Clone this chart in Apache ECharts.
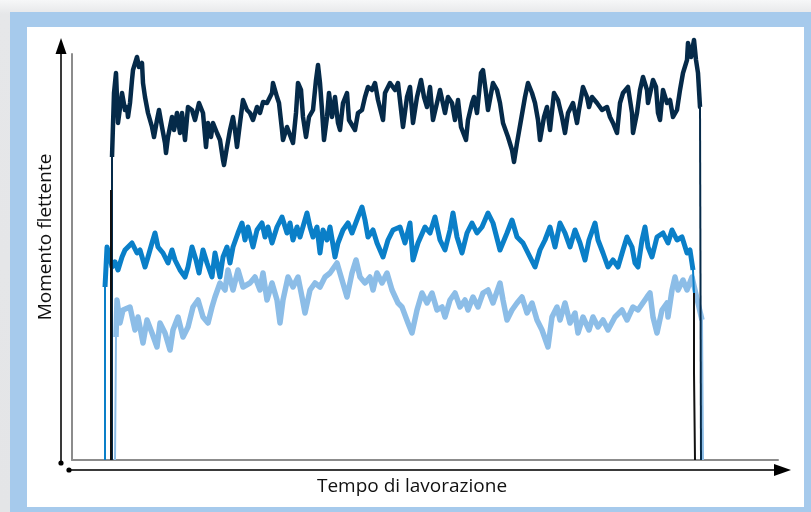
<!DOCTYPE html>
<html>
<head>
<meta charset="utf-8">
<script src="https://cdn.jsdelivr.net/npm/echarts@6/dist/echarts.min.js"></script>
<style>
    html, body { margin: 0; padding: 0; }
    body {
        width: 811px; height: 512px; overflow: hidden; position: relative;
        background: linear-gradient(180deg, #f6f7f8 0px, #e6e7e9 14px, #e4e5e7 100%);
    }
    #frame {
        position: absolute; left: 10px; top: 12px; width: 801px; height: 500px;
        background: #a6caec;
    }
    #panel {
        position: absolute; left: 27px; top: 27px; width: 777px; height: 480px;
        background: #ffffff;
    }
    #main { position: absolute; left: 0; top: 0; width: 811px; height: 512px; }
</style>
</head>
<body>
<div id="frame"></div>
<div id="panel"></div>
<div id="main"></div>
<script>
// assi senza scala: tempo 0..706, momento 0..406
var xLabel = 'Tempo di lavorazione';
var yLabel = 'Momento flettente';

// momento - traccia scura
var serieScura = [
    [40,0],[40,303],[42,367],[44,387],[46,337],[50,367],[53,350],[55,353],[56,343],[58,357],[60,380],[61,390],
    [65,403],[67,393],[70,397],[71,377],[73,363],[76,347],[80,333],[82,323],[85,340],[87,350],[90,333],[93,317],
    [94,307],[96,323],[100,343],[102,330],[105,347],[108,327],[110,347],[113,320],[116,353],[120,350],[123,340],
    [127,357],[131,347],[134,313],[136,337],[139,323],[141,337],[145,327],[148,320],[151,300],[152,295],[155,313],
    [158,330],[161,343],[163,330],[165,313],[168,337],[171,360],[175,350],[178,347],[181,340],[185,353],[188,347],
    [191,358],[195,357],[200,367],[201,377],[205,363],[207,357],[210,330],[211,320],[215,333],[221,317],[224,347],
    [226,377],[229,370],[231,343],[234,323],[237,343],[241,350],[244,380],[246,395],[248,377],[250,350],[252,320],
    [255,343],[257,367],[260,343],[263,363],[266,337],[268,330],[271,357],[275,367],[277,340],[283,330],[286,347],
    [290,350],[293,363],[296,373],[300,370],[303,377],[306,360],[311,340],[313,367],[318,377],[323,370],[326,377],
    [331,333],[335,363],[338,373],[341,337],[345,363],[349,380],[352,363],[355,353],[358,373],[361,340],[368,370],
    [373,347],[376,363],[380,357],[383,340],[386,360],[389,333],[394,320],[396,340],[400,357],[402,363],[405,347],
    [409,387],[411,390],[414,367],[416,350],[421,377],[425,370],[428,357],[431,337],[436,323],[440,310],[442,298],
    [445,317],[449,340],[453,363],[456,377],[460,367],[463,357],[466,340],[468,320],[472,343],[475,353],[478,330],
    [482,367],[486,360],[490,343],[493,327],[496,347],[501,357],[505,337],[507,350],[511,373],[515,363],[517,353],
    [520,363],[525,357],[530,350],[535,353],[538,343],[541,337],[545,327],[548,357],[551,367],[556,373],[560,347],
    [561,327],[565,347],[568,370],[571,383],[575,370],[576,357],[581,380],[584,373],[586,347],[588,340],[591,370],
    [595,357],[598,360],[601,343],[605,350],[608,370],[611,387],[615,400],[616,417],[619,403],[622,420],[624,400],
    [626,387],[628,353],[629,353],[629,0]
];

// momento - traccia media
var serieMedia = [
    [33,0],[33,173],[35,213],[38,203],[40,193],[43,198],[46,190],[50,203],[53,210],[60,217],[65,207],[68,210],
    [73,193],[76,203],[80,217],[83,227],[86,213],[91,207],[96,197],[100,210],[103,200],[108,190],[113,183],[116,193],
    [120,213],[124,200],[127,187],[131,210],[135,197],[140,183],[143,207],[146,193],[148,183],[151,203],[155,213],
    [158,197],[161,213],[166,227],[170,237],[173,220],[176,233],[181,213],[185,230],[190,237],[193,223],[196,233],
    [200,217],[205,233],[210,243],[215,227],[218,237],[221,220],[225,233],[228,223],[235,247],[238,233],[241,223],
    [245,233],[248,207],[251,230],[255,220],[258,233],[263,203],[266,217],[271,230],[276,237],[280,227],[286,243],
    [290,253],[293,240],[296,223],[301,230],[305,217],[311,203],[316,220],[321,230],[328,233],[333,217],[338,237],
    [341,200],[346,217],[353,233],[358,227],[363,243],[368,220],[373,210],[378,230],[381,247],[385,223],[390,207],
    [395,227],[400,237],[405,227],[410,233],[416,247],[421,237],[428,210],[435,227],[440,240],[445,223],[451,217],
    [458,203],[463,193],[468,210],[473,220],[478,233],[483,213],[488,237],[493,227],[498,213],[503,230],[508,217],
    [513,200],[517,220],[523,237],[526,220],[531,207],[536,193],[541,200],[546,193],[551,210],[555,223],[560,213],
    [563,197],[566,193],[570,220],[573,233],[576,213],[580,203],[585,223],[591,227],[596,217],[600,230],[605,220],
    [610,223],[615,207],[618,210],[621,190],[622,167]
];

// momento - traccia chiara
var serieChiara = [
    [43,0],[44,123],[45,160],[48,137],[51,150],[58,153],[63,130],[66,143],[71,117],[75,140],[80,127],[85,113],
    [88,137],[93,127],[98,110],[101,130],[106,143],[111,123],[116,133],[121,153],[126,160],[131,143],[136,137],
    [140,153],[143,163],[148,177],[153,170],[156,190],[161,170],[166,190],[171,173],[178,177],[183,183],[188,170],
    [191,187],[195,160],[200,177],[205,160],[208,137],[211,160],[216,183],[221,173],[226,183],[230,163],[233,147],
    [238,170],[243,177],[248,173],[253,183],[258,187],[265,197],[270,180],[275,163],[280,187],[284,200],[288,183],
    [293,177],[298,183],[301,170],[305,187],[310,177],[315,187],[320,170],[326,157],[330,153],[336,137],[340,127],
    [345,150],[350,167],[355,157],[360,167],[365,150],[370,153],[373,143],[378,160],[383,167],[388,153],[393,160],
    [396,150],[401,163],[406,153],[411,167],[416,170],[421,157],[428,177],[431,160],[435,140],[440,150],[445,157],
    [450,163],[455,147],[460,157],[465,140],[470,130],[476,113],[480,143],[485,153],[488,140],[493,157],[498,137],
    [503,147],[506,127],[511,143],[517,130],[521,143],[526,133],[531,140],[536,130],[543,143],[550,150],[555,140],
    [561,153],[566,150],[575,163],[578,167],[581,143],[585,127],[590,150],[595,157],[596,143],[600,170],[603,183],
    [606,170],[611,180],[615,170],[620,183],[623,170],[626,157],[630,140],[631,0]
];

// tratti neri di avvio e arresto
var tracciaNeraAvvio = [[39,0],[39,270]];
var tracciaNeraArresto = [[622,167],[622,87],[623,87],[623,0]];

var myChart = echarts.init(document.getElementById('main'), null, { renderer: 'canvas' });

function lineSerie(name, data, color, width, z) {
    return {
        name: name,
        type: 'line',
        data: data,
        showSymbol: false,
        symbol: 'none',
        clip: false,
        z: z,
        lineStyle: { color: color, width: width, join: 'round', cap: 'butt' },
        emphasis: { disabled: true }
    };
}

// corpo del segnale spesso, fronti di salita/discesa sottili
function traccia(name, data, color, width, z) {
    var out = [];
    var n = data.length;
    out.push(lineSerie(name, data.slice(1, n - 1), color, width, z));
    out.push(lineSerie(name + '-salita', data.slice(0, 3), color, 2, z));
    out.push(lineSerie(name + '-discesa', data.slice(n - 3), color, 2, z));
    return out;
}

var series = [].concat(
    traccia('chiara', serieChiara, '#8cbde7', 5.5, 2),
    traccia('media', serieMedia, '#0a7fc8', 5, 3),
    traccia('scura', serieScura, '#052a49', 4.5, 4),
    [
        lineSerie('avvio', tracciaNeraAvvio, '#111111', 2, 5),
        lineSerie('arresto', tracciaNeraArresto, '#111111', 2, 5)
    ]
);

var option = {
    animation: false,
    grid: { left: 72, right: 33, top: 54, bottom: 52 },
    xAxis: {
        type: 'value',
        min: 0,
        max: 706,
        axisLine: { show: true, lineStyle: { color: '#8c8c8c', width: 2 } },
        axisTick: { show: false },
        axisLabel: { show: false },
        splitLine: { show: false }
    },
    yAxis: {
        type: 'value',
        min: 0,
        max: 406,
        axisLine: { show: true, lineStyle: { color: '#8c8c8c', width: 2 } },
        axisTick: { show: false },
        axisLabel: { show: false },
        splitLine: { show: false }
    },
    graphic: [
        // freccia asse verticale
        { type: 'line', shape: { x1: 61, y1: 463, x2: 61, y2: 52 }, style: { stroke: '#3a3a3a', lineWidth: 2 } },
        { type: 'polygon', shape: { points: [[61, 38], [55.5, 54], [66.5, 54]] }, style: { fill: '#000' } },
        { type: 'circle', shape: { cx: 61, cy: 463, r: 2.6 }, style: { fill: '#000' } },
        // freccia asse orizzontale
        { type: 'line', shape: { x1: 69, y1: 470, x2: 776, y2: 470 }, style: { stroke: '#3a3a3a', lineWidth: 2 } },
        { type: 'polygon', shape: { points: [[791, 470], [774, 464], [774, 476]] }, style: { fill: '#000' } },
        { type: 'circle', shape: { cx: 69, cy: 470, r: 2.6 }, style: { fill: '#000' } },
        // etichette
        {
            type: 'text', x: 412, y: 487,
            style: { text: xLabel, font: '19px "Open Sans", sans-serif', fill: '#111', align: 'center', verticalAlign: 'middle' }
        },
        {
            type: 'text', x: 46, y: 237, rotation: Math.PI / 2,
            style: { text: yLabel, font: '19px "Open Sans", sans-serif', fill: '#111', align: 'center', verticalAlign: 'middle' }
        }
    ],
    series: series
};

myChart.setOption(option);
window.addEventListener('resize', function () { myChart.resize(); })
</script>
</body>
</html>
